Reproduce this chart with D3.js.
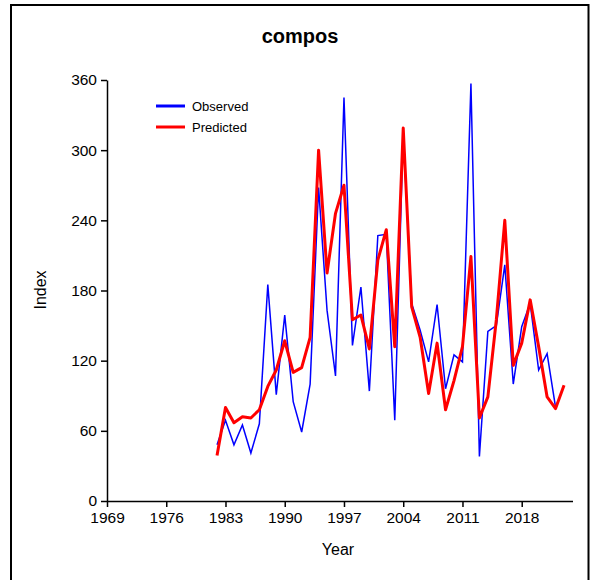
<!DOCTYPE html>
<html><head><meta charset="utf-8">
<script src="https://cdn.jsdelivr.net/npm/d3@7"></script>
<style>body{margin:0;background:#fff;} svg{display:block;font-family:"Liberation Sans",Arial,sans-serif;}</style>
</head><body>
<svg id="c" width="593" height="580"></svg>
<script>
const years = d3.range(1982, 2024);
const observed = [48,69,48,65,41,66,185,91,159,85,59,100,268,163,107,345,133,183,94,227,228,69,315,169,146,119,168,96,125,119,357,38,145,150,202,100,149,169,112,126,80,null];
const predicted = [39,80,67,72,71,78,98,112,137,110,114,140,300,195,246,270,155,159,130,206,232,132,319,166,140,92,135,78,103,132,209,71,89,155,240,116,135,172,132,89,79,99];
const xTicks = [1969,1976,1983,1990,1997,2004,2011,2018];
const yTicks = [0,60,120,180,240,300,360];
const title = "compos";

const svg = d3.select("#c");
// outer frame
svg.append("rect").attr("x",11).attr("y",5).attr("width",577.5).attr("height",590)
  .attr("fill","none").attr("stroke","#000").attr("stroke-width",2);

const x = d3.scaleLinear().domain([1969,2024]).range([107,572.5]);
const y = d3.scaleLinear().domain([0,360]).range([501,80]);

const xa = svg.append("g").attr("transform","translate(0,501)")
  .call(d3.axisBottom(x).tickValues(xTicks).tickFormat(d3.format("d")).tickSize(6).tickSizeOuter(0));
const ya = svg.append("g").attr("transform","translate(107,0)")
  .call(d3.axisLeft(y).tickValues(yTicks).tickSize(6).tickSizeOuter(0));
[xa,ya].forEach(g=>{
  g.selectAll("path").attr("stroke","#000").attr("stroke-width",1.5);
  g.selectAll("line").attr("stroke","#000").attr("stroke-width",1.5);
  g.selectAll("text").attr("fill","#000").style("font-size","15.5px").style("font-family","'Liberation Sans',Arial,sans-serif");
});
xa.selectAll("text").attr("dy","0.85em");
ya.selectAll("text").attr("dx","-1px");

const lineGen = d3.line().defined(d=>d[1]!=null).x(d=>x(d[0])).y(d=>y(d[1]));
svg.append("path").datum(years.map((yr,i)=>[yr,observed[i]]))
  .attr("d",lineGen).attr("fill","none").attr("stroke","#0000ff").attr("stroke-width",1.5);
svg.append("path").datum(years.map((yr,i)=>[yr,predicted[i]]))
  .attr("d",lineGen).attr("fill","none").attr("stroke","#ff0000").attr("stroke-width",3).attr("stroke-linejoin","round");

svg.append("text").attr("x",300).attr("y",43).attr("text-anchor","middle")
  .style("font-size","20px").style("font-weight","bold").text(title);
svg.append("text").attr("x",338).attr("y",555).attr("text-anchor","middle")
  .style("font-size","16px").text("Year");
svg.append("text").attr("transform","translate(46,290) rotate(-90)").attr("text-anchor","middle")
  .style("font-size","16px").text("Index");

const leg = [["Observed","#0000ff"],["Predicted","#ff0000"]];
leg.forEach((l,i)=>{
  const yy = 106 + i*21;
  svg.append("line").attr("x1",156).attr("x2",185).attr("y1",yy).attr("y2",yy)
    .attr("stroke",l[1]).attr("stroke-width",3);
  svg.append("text").attr("x",192).attr("y",yy+4.5).style("font-size","13px").text(l[0]);
});
</script>
</body></html>
